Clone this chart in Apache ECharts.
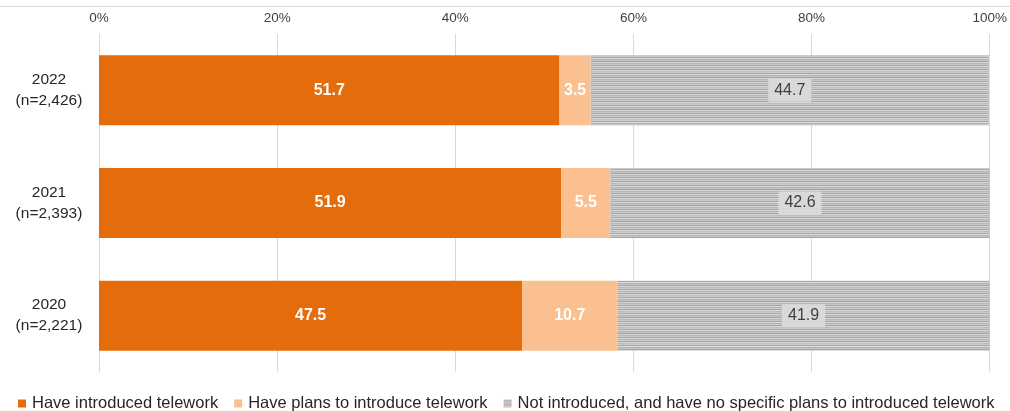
<!DOCTYPE html>
<html>
<head>
<meta charset="utf-8">
<script src="https://cdn.jsdelivr.net/npm/echarts@6/dist/echarts.min.js"></script>
<style>
  html, body { margin: 0; padding: 0; background: #fff; }
  #chart { width: 1010px; height: 411px; }
</style>
</head>
<body>
<div id="chart"></div>
<script>
// Telework introduction status by survey year (%)
const years = ['2022\n(n=2,426)', '2021\n(n=2,393)', '2020\n(n=2,221)'];
const introduced = [51.7, 51.9, 47.5];
const planned = [3.5, 5.5, 10.7];
const notIntroduced = [44.7, 42.6, 41.9];
const seriesNames = [
  'Have introduced telework',
  'Have plans to introduce telework',
  'Not introduced, and have no specific plans to introduced telework'
];
const xTicks = [0, 20, 40, 60, 80, 100];

// horizontal line fill for the third segment
function stripePattern() {
  const c = document.createElement('canvas');
  c.width = 4; c.height = 16;
  const ctx = c.getContext('2d');
  const rows = ['#c8c8c8', '#a6a6a6', '#d9d9d9', '#b0b0b0', '#cfcfcf', '#a3a3a3', '#d6d6d6', '#bdbdbd',
                '#cccccc', '#a8a8a8', '#dadada', '#b4b4b4', '#c4c4c4', '#a5a5a5', '#d3d3d3', '#b9b9b9'];
  rows.forEach((col, i) => { ctx.fillStyle = col; ctx.fillRect(0, i, 4, 1); });
  return c;
}
const stripe = { image: stripePattern(), repeat: 'repeat' };

const chart = echarts.init(document.getElementById('chart'));
const font = 'Liberation Sans, Arial, sans-serif';

chart.setOption({
  animation: false,
  textStyle: { fontFamily: font },
  grid: { left: 99, right: 20, top: 34, bottom: 39 },
  xAxis: {
    type: 'value',
    position: 'top',
    min: 0, max: 100, interval: 20,
    axisLine: { show: false },
    axisTick: { show: false },
    splitLine: { show: true, lineStyle: { color: '#d9d9d9', width: 1 } },
    axisLabel: {
      formatter: v => xTicks.includes(v) ? v + '%' : '',
      color: '#404040', fontSize: 13.5, margin: 9
    }
  },
  yAxis: {
    type: 'category',
    data: years,
    inverse: true,
    axisLine: { show: true, lineStyle: { color: '#d9d9d9' } },
    axisTick: { show: false },
    axisLabel: { color: '#262626', fontSize: 15.5, lineHeight: 21, margin: 50, align: 'center' }
  },
  legend: {
    top: 395,
    left: 18,
    padding: 0,
    itemWidth: 8, itemHeight: 8, itemGap: 16,
    icon: 'rect',
    textStyle: { fontSize: 16.5, color: '#262626', padding: [0, 0, 0, 1] },
    data: seriesNames
  },
  series: [
    {
      name: seriesNames[0], type: 'bar', stack: 'all', barWidth: 70,
      data: introduced,
      itemStyle: { color: '#e46c0a' },
      label: { show: true, position: 'inside', color: '#fff', fontWeight: 'bold', fontSize: 16 }
    },
    {
      name: seriesNames[1], type: 'bar', stack: 'all', barWidth: 70,
      data: planned,
      itemStyle: { color: '#fac090' },
      label: { show: true, position: 'inside', color: '#fff', fontWeight: 'bold', fontSize: 16 }
    },
    {
      name: seriesNames[2], type: 'bar', stack: 'all', barWidth: 70,
      data: notIntroduced,
      itemStyle: { color: stripe },
      label: {
        show: true, position: 'inside', color: '#404040', fontSize: 16,
        backgroundColor: '#d9d9d9', padding: [4, 6, 3, 6]
      }
    }
  ],
  graphic: [
    { type: 'line', shape: { x1: 0, y1: 6.5, x2: 1010, y2: 6.5 }, style: { stroke: '#d9d9d9', lineWidth: 1 } }
  ]
});
</script>
</body>
</html>
